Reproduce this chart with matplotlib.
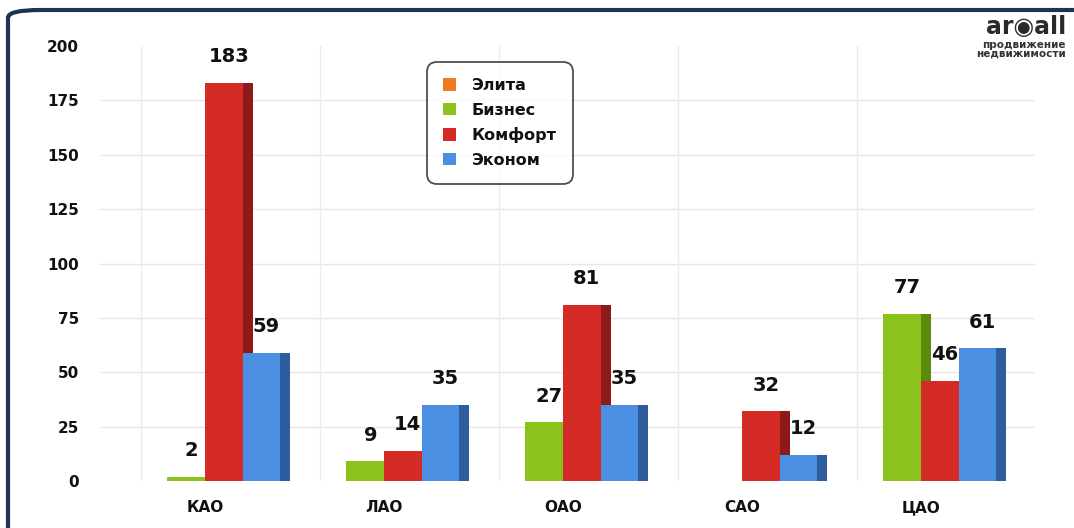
import numpy as np
import matplotlib.pyplot as plt
from matplotlib.patches import FancyBboxPatch, Patch

districts = ['КАО', 'ЛАО', 'ОАО', 'САО', 'ЦАО']
series_names = ['Элита', 'Бизнес', 'Комфорт', 'Эконом']
elita = [0, 0, 0, 0, 0]
biznes = [2, 9, 27, 0, 77]
komfort = [183, 14, 81, 32, 46]
ekonom = [59, 35, 35, 12, 61]
yticks = [0, 25, 50, 75, 100, 125, 150, 175, 200]

front_colors = ['#f07a22', '#8cc21c', '#d42b27', '#4b8fe2']
side_colors = ['#b4520e', '#5c8a0e', '#8c1a18', '#2e5c9c']

plt.rcParams['font.family'] = ['DejaVu Sans']
plt.rcParams['font.weight'] = 'bold'

fig = plt.figure(figsize=(10.74, 5.28), dpi=100)
ax = fig.add_axes([100 / 1074, 47 / 528, 935 / 1074, 435 / 528])

x = np.arange(len(districts))
w = 0.21
side = 0.056
data = [elita, biznes, komfort, ekonom]

for k, vals in enumerate(data):
    pos = x + (k - 1.5) * w
    ax.bar(pos, vals, width=w, color=front_colors[k], zorder=3 + 2 * k, linewidth=0)
    ax.bar(pos + w / 2 + side / 2, vals, width=side, color=side_colors[k],
           zorder=3 + 2 * k, linewidth=0)
    for p, v in zip(pos, vals):
        if v > 0:
            ax.annotate(str(v), (p + side / 2, v), xytext=(0, 12),
                        textcoords='offset points', ha='center', va='bottom',
                        fontsize=14, fontweight='bold', color='#111111', zorder=20)

# background grid
for yv in yticks[1:-1]:
    ax.axhline(yv, color='#e6e6e6', lw=1, zorder=0)
for gx in np.arange(-1, len(districts)) + 0.64:
    ax.axvline(gx, color='#ececec', lw=1, zorder=0)

ax.set_xlim(-0.587, 4.637)
ax.set_ylim(0, 200)
ax.set_yticks(yticks)
ax.set_xticks(x)
ax.set_xticklabels(districts)
ax.tick_params(axis='both', length=0, labelsize=11, colors='#111111')
ax.tick_params(axis='y', pad=15)
ax.tick_params(axis='x', pad=14)
for lab in ax.get_xticklabels() + ax.get_yticklabels():
    lab.set_fontweight('bold')
for s in ax.spines.values():
    s.set_visible(False)

handles = [Patch(facecolor=c, edgecolor='none') for c in front_colors]
leg = fig.legend(handles, series_names, loc='upper left',
                 bbox_to_anchor=(427 / 1074, 1 - 62 / 528), fontsize=11.5,
                 handlelength=0.8, handleheight=0.8, handletextpad=1.0,
                 labelspacing=0.6, borderpad=1.0, borderaxespad=0,
                 frameon=True, fancybox=True)
leg.get_frame().set_edgecolor('#222222')
leg.get_frame().set_linewidth(1.3)
leg.get_frame().set_boxstyle('round', pad=0, rounding_size=0.6)
for t in leg.get_texts():
    t.set_fontweight('bold')
    t.set_color('#111111')

# outer rounded frame
frame = FancyBboxPatch((8 / 1074, -0.05), 1.1, 1 - 10 / 528 + 0.05,
                       boxstyle='round,pad=0,rounding_size=0.03',
                       transform=fig.transFigure, facecolor='none',
                       edgecolor='#1d3350', linewidth=3, zorder=-1,
                       mutation_aspect=528 / 1074)
fig.patches.append(frame)

# logo
fig.text(1066 / 1074, 1 - 27 / 528, 'ar◉all', ha='right', va='center',
         fontsize=17, fontweight='bold', color='#2a2a2a')
fig.text(1066 / 1074, 1 - 45 / 528, 'продвижение', ha='right', va='center',
         fontsize=7.5, color='#333333')
fig.text(1066 / 1074, 1 - 53 / 528, 'недвижимости', ha='right', va='center',
         fontsize=7.5, color='#333333')

fig.savefig('out.png', dpi=100)
